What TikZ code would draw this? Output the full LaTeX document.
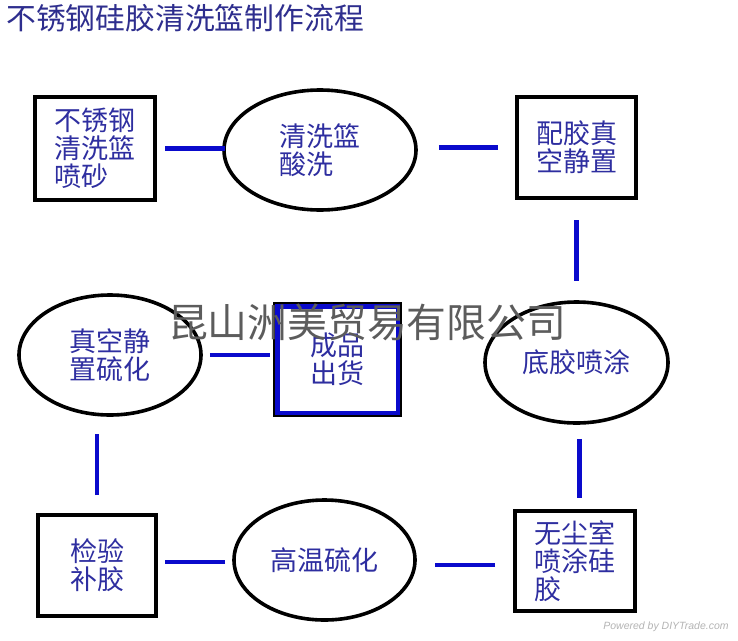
\documentclass[tikz,border=0pt]{standalone}
\usepackage{fontspec}
\usetikzlibrary{shapes.geometric}
\newfontfamily\cjk{Noto Sans CJK SC}
\setsansfont{Liberation Sans}
\definecolor{txtblue}{HTML}{2E2EA0}
\definecolor{ttlblue}{HTML}{2E2E8E}
\definecolor{lineblue}{HTML}{0A0ACC}
\definecolor{wmgray}{HTML}{5C5C5C}
\definecolor{pwgray}{HTML}{B4B4B4}
\tikzset{
  stepbox/.style={draw=black, line width=4pt, rectangle, inner sep=0pt, align=left,
    font=\cjk\fontsize{27}{28}\selectfont, text=txtblue},
  stepoval/.style={draw=black, line width=3.6pt, ellipse, inner sep=0pt, align=left,
    font=\cjk\fontsize{27}{28}\selectfont, text=txtblue},
  conn/.style={draw=lineblue, line width=4.5pt},
}
\begin{document}
\begin{tikzpicture}[x=1pt,y=-1pt]
\useasboundingbox[fill=white] (0,0) rectangle (738,640);
% title
\node[anchor=west, inner sep=0pt, font=\cjk\fontsize{29.8}{31}\selectfont, text=ttlblue] (title) at (6,18) {不锈钢硅胶清洗篮制作流程};
% nodes
\node[stepbox, minimum width=120pt, minimum height=103pt] (r1) at (95,148.5) {不锈钢\\清洗篮\\喷砂};
\node[stepoval, minimum width=192pt, minimum height=120pt] (e2) at (320,150) {清洗篮\\酸洗};
\node[stepbox, minimum width=119pt, minimum height=101pt] (r3) at (576.5,147.5) {配胶真\\空静置};
\node[stepoval, minimum width=183pt, minimum height=121pt] (e4) at (576.5,362.5) {底胶喷涂};
\node[stepbox, minimum width=120pt, minimum height=100pt] (r5) at (575,561) {无尘室\\喷涂硅\\胶};
\node[stepoval, minimum width=181pt, minimum height=120pt] (e6) at (324.5,560) {高温硫化};
\node[stepbox, minimum width=118pt, minimum height=101pt] (r7) at (97,565.5) {检验\\补胶};
\node[stepoval, minimum width=182pt, minimum height=120pt] (e8) at (110,355) {真空静\\置硫化};
\node[stepbox, minimum width=125pt, minimum height=111pt] (b9) at (337.5,359.5) {成品\\出货};
\draw[draw=lineblue, line width=4.5pt] ([shift={(4.25pt,-4.25pt)}]b9.north west) rectangle ([shift={(-4.25pt,4.25pt)}]b9.south east);
% connectors
\draw[conn, shorten <=8pt, shorten >=-3pt] (r1.east) -- (r1.east -| e2.west);
\draw[conn, shorten <=21pt, shorten >=17pt] (r3.west -| e2.east) -- (r3.west);
\draw[conn, shorten <=20pt, shorten >=19pt] (r3.south) -- (r3.south |- e4.north);
\draw[conn, shorten <=14pt, shorten >=11pt] ([xshift=3pt]e4.south) -- ([xshift=3pt]e4.south |- r5.north);
\draw[conn, shorten <=18pt, shorten >=18pt] ([yshift=-4pt]r5.west) -- ([yshift=-4pt]r5.west -| e6.east);
\draw[conn, shorten <=7pt, shorten >=7pt] ([yshift=-2pt]e6.west) -- ([yshift=-2pt]e6.west -| r7.east);
\draw[conn, shorten <=18pt, shorten >=17pt] (r7.north) -- (r7.north |- e8.south);
\draw[conn, shorten <=7pt, shorten >=3pt] (e8.east) -- (e8.east -| b9.west);
% watermark
\node[inner sep=0pt, font=\cjk\fontsize{39.8}{41}\selectfont, text=wmgray] (wm) at (367,322) {昆山洲美贸易有限公司};
% footer
\node[inner sep=0pt, font=\sffamily\itshape\fontsize{10.5}{12}\selectfont, text=pwgray] (pw) at (666,627) {Powered by DIYTrade.com};
\end{tikzpicture}
\end{document}
